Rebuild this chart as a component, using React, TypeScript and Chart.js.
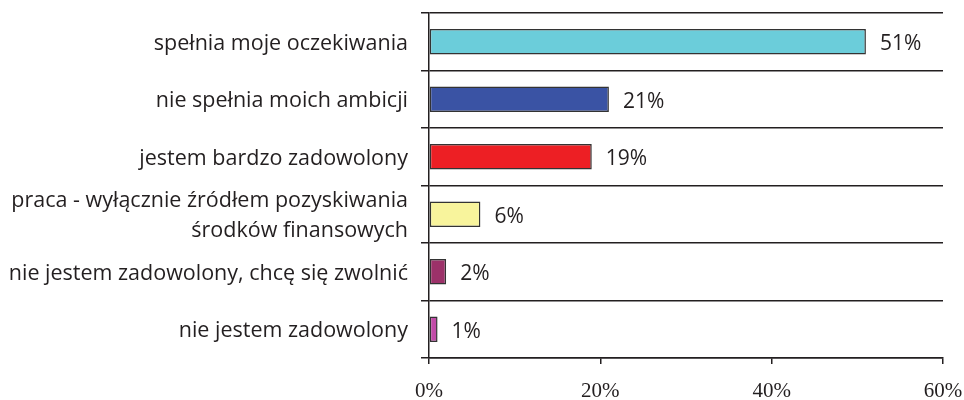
import React, { useEffect, useRef } from 'react';
import { Chart, registerables } from 'chart.js';

Chart.register(...registerables);

const categories: (string | string[])[] = [
  'spełnia moje oczekiwania',
  'nie spełnia moich ambicji',
  'jestem bardzo zadowolony',
  ['praca - wyłącznie źródłem pozyskiwania', 'środków finansowych'],
  'nie jestem zadowolony, chcę się zwolnić',
  'nie jestem zadowolony',
];
const values = [51, 21, 19, 6, 2, 1];
const barColors = ['#6BCDDA', '#3A53A4', '#ED1F24', '#F8F49C', '#9C3169', '#C24BA8'];
const xMin = 0;
const xMax = 60;
const xStep = 20;

const INK = '#231F20';
const SANS = '"Open Sans", "Noto Sans", sans-serif';
const SERIF = '"Liberation Serif", "Times New Roman", serif';

export default function App() {
  const ref = useRef<HTMLCanvasElement>(null);

  useEffect(() => {
    document.body.style.margin = '0';
    const valueLabels = {
      id: 'valueLabels',
      afterDatasetsDraw(chart: any) {
        const ctx = chart.ctx;
        const meta = chart.getDatasetMeta(0);
        ctx.save();
        ctx.font = `21px ${SANS}`;
        ctx.fillStyle = INK;
        ctx.textAlign = 'left';
        ctx.textBaseline = 'middle';
        meta.data.forEach((bar: any, i: number) => {
          ctx.fillText(values[i] + '%', bar.x + 14, bar.y + 2.5);
        });
        ctx.restore();
      },
    };

    const chart = new Chart(ref.current as HTMLCanvasElement, {
      type: 'bar',
      data: {
        labels: categories as any,
        datasets: [
          {
            data: values,
            backgroundColor: barColors,
            borderColor: '#333333',
            borderWidth: 1.5,
            borderSkipped: false,
            categoryPercentage: 1,
            barPercentage: 0.44,
          },
        ],
      },
      options: {
        indexAxis: 'y',
        responsive: false,
        animation: false,
        layout: { padding: { top: 13, right: 21, left: 0, bottom: 0 } },
        plugins: { legend: { display: false }, tooltip: { enabled: false } },
        scales: {
          x: {
            min: xMin,
            max: xMax,
            ticks: {
              stepSize: xStep,
              callback: (v: any) => v + '%',
              font: { family: SERIF, size: 21 },
              color: INK,
              padding: 15,
              maxRotation: 0,
              autoSkip: false,
            },
            grid: { drawOnChartArea: false, tickLength: 6, color: INK, lineWidth: 1.5 },
            border: { color: INK, width: 1.5 },
            afterFit: (s: any) => {
              s.height = 42;
              s.paddingLeft = 0;
              s.paddingRight = 0;
            },
          },
          y: {
            ticks: {
              font: { family: SANS, size: 21.5, lineHeight: 1.4 },
              color: INK,
              padding: 13,
              labelOffset: 2,
              autoSkip: false,
            },
            grid: { offset: true, color: INK, lineWidth: 1.5, tickLength: 8 },
            border: { color: INK, width: 1.5 },
            afterFit: (s: any) => {
              s.width = 429;
              s.paddingTop = 0;
              s.paddingBottom = 0;
            },
          },
        },
      },
      plugins: [valueLabels],
    });
    return () => chart.destroy();
  }, []);

  return <canvas ref={ref} width={964} height={400} style={{ display: 'block' }} />;
}
